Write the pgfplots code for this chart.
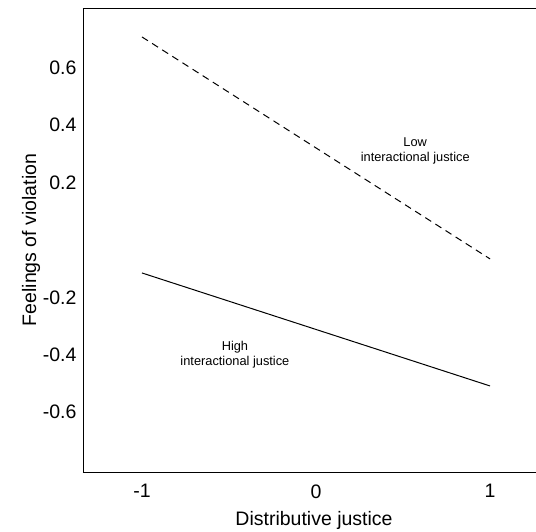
\documentclass[border=0pt]{standalone}
\usepackage{fontspec}
\setmainfont{Liberation Sans}
\usepackage{pgfplots}
\pgfplotsset{compat=1.18}
\begin{document}
\begin{tikzpicture}
\begin{axis}[
  scale only axis,
  width=453pt, height=464pt,
  xmin=-1.339, xmax=1.264,
  ymin=-0.809, ymax=0.809,
  axis x line*=box,
  axis y line*=left,
  axis line style={black, line width=0.8pt},
  xtick={-1,0,1},
  xticklabels={-1,0,1},
  ytick={-0.6,-0.4,-0.2,0.2,0.4,0.6},
  yticklabels={-0.6,-0.4,-0.2,0.2,0.4,0.6},
  major tick length=0pt,
  tick label style={font=\fontsize{19.5}{22}\selectfont},
  xticklabel style={yshift=-9pt},
  yticklabel style={xshift=-3pt},
  label style={font=\fontsize{19.5}{22}\selectfont},
  xlabel={Distributive justice},
  ylabel={Feelings of violation},
  xlabel style={at={(rel axis cs:0.51,0)}, anchor=center, yshift=-48pt},
  ylabel style={at={(rel axis cs:0,0.5)}, anchor=center, yshift=52pt},
  clip=false,
]
\addplot[black, line width=1pt, dash pattern=on 7pt off 5pt] coordinates {(-1,0.708) (1,-0.066)};
\addplot[black, line width=1pt] coordinates {(-1,-0.115) (1,-0.509)};
\node[align=center, font=\fontsize{12.8}{15}\selectfont] at (axis cs:0.57,0.31) {Low\\interactional justice};
\node[align=center, font=\fontsize{12.8}{15}\selectfont] at (axis cs:-0.466,-0.40) {High\\interactional justice};
\coordinate (ll) at (rel axis cs:0,0);
\coordinate (ur) at (rel axis cs:1,1);
\end{axis}
\pgfresetboundingbox
\path[use as bounding box] ([xshift=-83pt,yshift=-60pt]ll) rectangle ([yshift=8pt]ur);
\end{tikzpicture}
\end{document}
